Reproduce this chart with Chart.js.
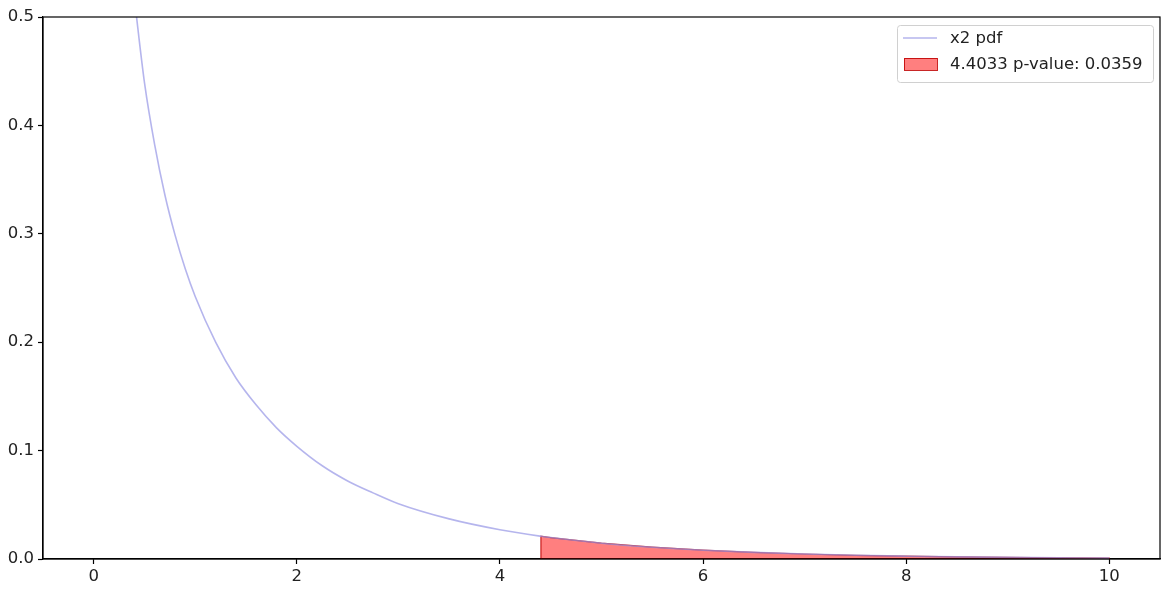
<!DOCTYPE html>
<html>
<head>
<meta charset="utf-8">
<script src="https://cdn.jsdelivr.net/npm/chart.js@4/dist/chart.umd.min.js"></script>
<style>
  html, body { margin: 0; padding: 0; background: #fff; }
  #wrap { width: 1170px; height: 595px; position: relative; }
  canvas { display: block; }
</style>
</head>
<body>
<div id="wrap"><canvas id="chart" width="1170" height="595"></canvas></div>
<script>
// Значения
const pdfX = [0.4, 0.5, 0.6, 0.7, 0.8, 0.9, 1.0, 1.2, 1.4, 1.6, 1.8, 2.0, 2.25, 2.5, 2.75, 3.0, 3.5, 4.0, 4.4033, 4.5, 5.0, 5.5, 6.0, 6.5, 7.0, 7.5, 8.0, 8.5, 9.0, 9.5, 10.0];
const pdfY = [0.517, 0.439, 0.382, 0.336, 0.299, 0.268, 0.242, 0.200, 0.167, 0.142, 0.121, 0.104, 0.086, 0.072, 0.061, 0.051, 0.037, 0.027, 0.021, 0.0198, 0.0146, 0.0109, 0.0081, 0.0061, 0.0046, 0.0034, 0.0026, 0.0020, 0.0015, 0.0011, 0.00085];

const critValue = 4.4033;
const pValue = 0.0359;

const xTicks = [0, 2, 4, 6, 8, 10];
const yTicks = [0.0, 0.1, 0.2, 0.3, 0.4, 0.5];

const legendLabels = ['x2 pdf', critValue.toFixed(4) + ' p-value: ' + pValue.toFixed(4)];

// Точки кривой
const curvePoints = pdfX.map((x, i) => ({ x: x, y: pdfY[i] }));

// Заливка хвоста справа от критического значения
const tailPoints = [{ x: critValue, y: 0 }]
    .concat(curvePoints.filter(p => p.x >= critValue))
    .concat([{ x: pdfX[pdfX.length - 1], y: 0 }]);

const FONT = 'DejaVu Sans';
const lineColor = 'rgba(150, 150, 230, 0.7)';
const fillColor = 'rgba(255, 0, 0, 0.5)';
const edgeColor = 'rgba(190, 0, 0, 0.85)';

// Рамка вокруг области графика и легенда в стиле matplotlib
const framePlugin = {
    id: 'frame',
    afterDraw(chart) {
        const { ctx, chartArea: a } = chart;
        ctx.save();
        ctx.strokeStyle = '#000';
        ctx.lineWidth = 1.2;
        ctx.strokeRect(a.left, a.top, a.right - a.left, a.bottom - a.top);

        // легенда
        const bx = 897, by = 25, bw = 256, bh = 57;
        ctx.fillStyle = 'rgba(255,255,255,0.85)';
        ctx.strokeStyle = '#d0d0d0';
        ctx.lineWidth = 1;
        ctx.beginPath();
        ctx.roundRect(bx + 0.5, by + 0.5, bw, bh, 3);
        ctx.fill();
        ctx.stroke();

        ctx.strokeStyle = lineColor;
        ctx.lineWidth = 1.5;
        ctx.beginPath();
        ctx.moveTo(903, 38);
        ctx.lineTo(937, 38);
        ctx.stroke();

        ctx.fillStyle = fillColor;
        ctx.fillRect(904, 58, 33, 12);
        ctx.strokeStyle = edgeColor;
        ctx.lineWidth = 1;
        ctx.strokeRect(904.5, 58.5, 33, 12);

        ctx.fillStyle = '#222';
        ctx.font = '16.5px "' + FONT + '"';
        ctx.textBaseline = 'middle';
        ctx.textAlign = 'left';
        ctx.fillText(legendLabels[0], 950, 39);
        ctx.fillText(legendLabels[1], 950, 65);
        ctx.restore();
    }
};

const ctx = document.getElementById('chart').getContext('2d');
new Chart(ctx, {
    type: 'line',
    data: {
        datasets: [
            {
                label: legendLabels[1],
                data: tailPoints,
                borderColor: edgeColor,
                borderWidth: 1.2,
                backgroundColor: fillColor,
                fill: 'origin',
                pointRadius: 0,
                tension: 0,
                order: 2
            },
            {
                label: legendLabels[0],
                data: curvePoints,
                borderColor: lineColor,
                borderWidth: 1.6,
                fill: false,
                pointRadius: 0,
                cubicInterpolationMode: 'monotone',
                order: 1
            }
        ]
    },
    options: {
        responsive: false,
        animation: false,
        devicePixelRatio: 1,
        layout: { padding: { top: 17, right: 10, left: 0, bottom: 0 } },
        plugins: {
            legend: { display: false },
            tooltip: { enabled: false }
        },
        scales: {
            x: {
                type: 'linear',
                min: -0.5,
                max: 10.5,
                afterBuildTicks: s => { s.ticks = xTicks.map(v => ({ value: v })); },
                afterFit: s => { s.height = 36; },
                grid: { drawOnChartArea: false, color: '#000', tickLength: 5, tickWidth: 1.2 },
                border: { color: '#000', width: 1.2 },
                ticks: {
                    color: '#222',
                    font: { family: FONT, size: 16.5 },
                    padding: 3,
                    maxRotation: 0,
                    autoSkip: false,
                    callback: v => String(v)
                }
            },
            y: {
                min: 0,
                max: 0.5,
                afterBuildTicks: s => { s.ticks = yTicks.map(v => ({ value: v })); },
                afterFit: s => { s.width = 43; },
                grid: { drawOnChartArea: false, color: '#000', tickLength: 5, tickWidth: 1.2 },
                border: { color: '#000', width: 1.2 },
                ticks: {
                    color: '#222',
                    font: { family: FONT, size: 16.5 },
                    padding: 4,
                    autoSkip: false,
                    callback: v => v.toFixed(1)
                }
            }
        }
    },
    plugins: [framePlugin]
});
</script>
</body>
</html>
